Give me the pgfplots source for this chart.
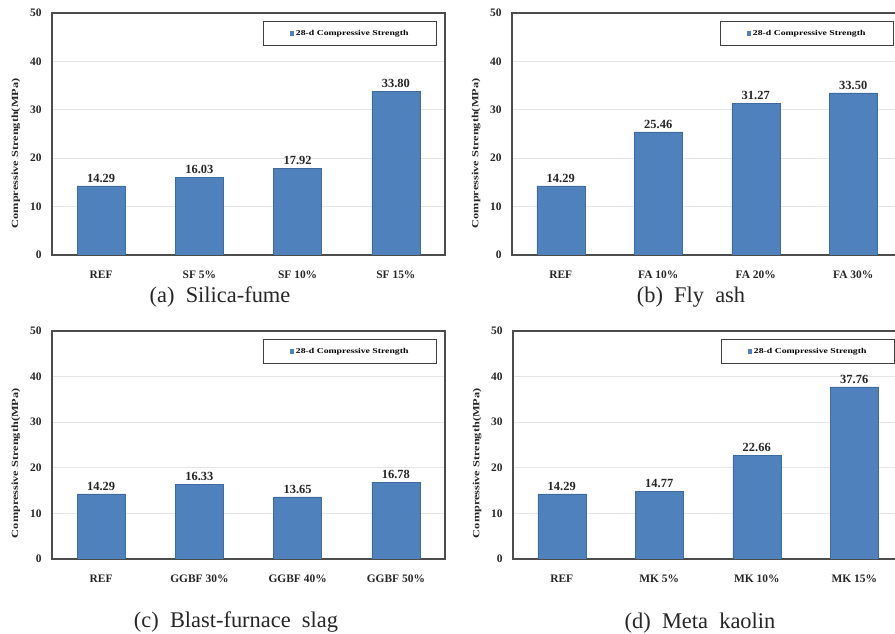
\documentclass[border=0pt]{standalone}
\usepackage{pgfplots}
\pgfplotsset{compat=1.18}
\usepackage{graphicx}
\usepackage{fontspec}
\setmainfont{Liberation Serif}
\definecolor{barblue}{HTML}{4F81BD}
\definecolor{baredge}{HTML}{3F6A9E}
\pgfplotsset{
  panel/.style={
    scale only axis, anchor=south west,
    ybar, bar width=48bp,
    ymin=0, ymax=50, ytick={0,10,...,50},
    xmin=-0.5, xmax=3.5, xtick=data,
    major tick length=0pt,
    ymajorgrids, grid style={draw=black!10, line width=0.8pt},
    axis line style={draw=black!70, line width=1.1pt},
    /pgf/number format/assume math mode=true,
    tick label style={font=\fontsize{11.5}{13}\selectfont\bfseries, text=black!85},
    yticklabel style={xshift=-7bp},
    xticklabel style={yshift=-12bp},
    ylabel={\scalebox{1.3}[1]{Compressive Strength(MPa)}},
    ylabel style={font=\fontsize{9.5}{10}\selectfont\bfseries, text=black!85, at={(axis description cs:-0.092,0.42)}, anchor=center},
    nodes near coords,
    nodes near coords style={font=\fontsize{12.5}{13}\selectfont\bfseries, text=black!85,
      /pgf/number format/fixed, /pgf/number format/fixed zerofill,
      /pgf/number format/precision=2, /pgf/number format/assume math mode=true},
    legend image code/.code={\fill[barblue] (0bp,-1.8bp) rectangle (3.6bp,1.8bp);},
    legend style={at={(1,1)}, anchor=north east, xshift=-8bp, yshift=-8bp,
      draw=black!75, line width=1.2pt, inner xsep=26bp, inner ysep=6.5bp,
      font=\fontsize{7.5}{8}\selectfont\bfseries},
  },
  bars/.style={fill=barblue, draw=baredge, line width=0.5pt},
}
\newcommand{\legtext}{\scalebox{1.3}[1]{28-d Compressive Strength}}
\begin{document}
\begin{tikzpicture}
\useasboundingbox (0bp,0bp) rectangle (895bp,634bp);
\clip (0bp,0bp) rectangle (895bp,634bp);
\fill[white] (0bp,0bp) rectangle (895bp,634bp);
% (a)
\begin{axis}[panel, at={(52bp,379bp)}, width=393bp, height=242bp,
  xticklabels={REF, SF 5\%, SF 10\%, SF 15\%}]
\addplot[bars] coordinates {(0,14.29) (1,16.03) (2,17.92) (3,33.80)};
\addlegendentry{\legtext}
\end{axis}
% (b)
\begin{axis}[panel, at={(512bp,379bp)}, width=390bp, height=242bp,
  xticklabels={REF, FA 10\%, FA 20\%, FA 30\%}]
\addplot[bars] coordinates {(0,14.29) (1,25.46) (2,31.27) (3,33.50)};
\addlegendentry{\legtext}
\end{axis}
% (c)
\begin{axis}[panel, at={(52bp,75bp)}, width=393bp, height=228bp,
  xticklabels={REF, GGBF 30\%, GGBF 40\%, GGBF 50\%}]
\addplot[bars] coordinates {(0,14.29) (1,16.33) (2,13.65) (3,16.78)};
\addlegendentry{\legtext}
\end{axis}
% (d)
\begin{axis}[panel, at={(513bp,75bp)}, width=390bp, height=228bp,
  xticklabels={REF, MK 5\%, MK 10\%, MK 15\%}]
\addplot[bars] coordinates {(0,14.29) (1,14.77) (2,22.66) (3,37.76)};
\addlegendentry{\legtext}
\end{axis}
\begin{scope}[every node/.style={font=\fontsize{22.5}{24}\selectfont, text=black!85}]
\node at (220bp,337bp) {(a)\ \ Silica-fume};
\node at (691bp,337bp) {(b)\ \ Fly\ \ ash};
\node at (236bp,12bp) {(c)\ \ Blast-furnace\ \ slag};
\node at (700bp,11bp) {(d)\ \ Meta\ \ kaolin};
\end{scope}
\end{tikzpicture}
\end{document}
